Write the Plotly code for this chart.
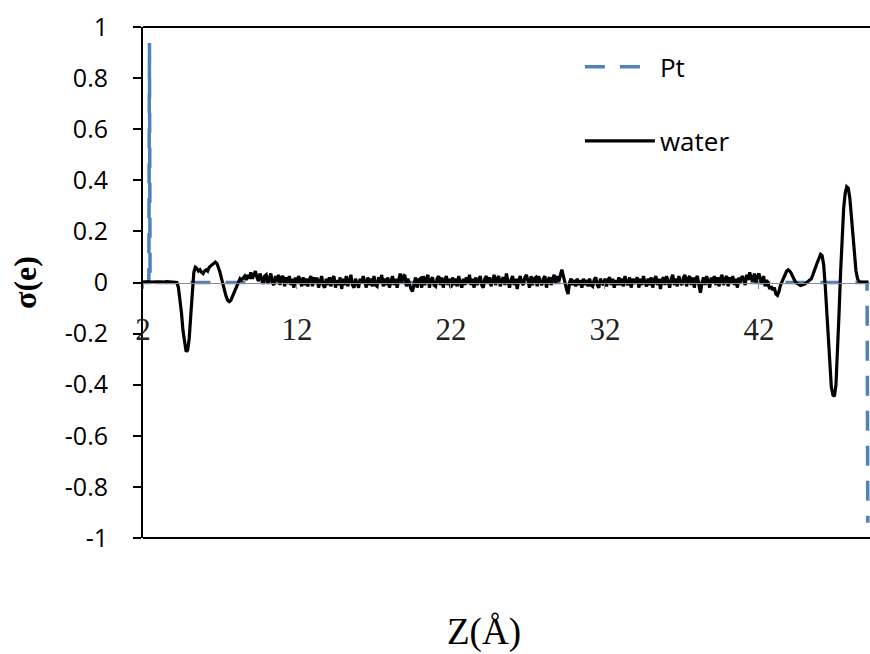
import numpy as np
import plotly.graph_objects as go

# ---------------- data ----------------
Z_START = 2.0
Z_STEP = 0.1

water_a = [0.002, 0.003, 0.002, 0.003, 0.003, 0.002, 0.003, 0.003, 0.002, 0.003, 0.003,
           0.002, 0.003, 0.003, 0.002, 0.003, 0.003, 0.002, 0.003, 0.003, 0.002, 0.003]
water_b = [0.0, -0.02, -0.06, -0.12, -0.19, -0.24, -0.27, -0.265,
           -0.22, -0.13, -0.03, 0.04, 0.06, 0.055, 0.045, 0.05, 0.04, 0.035,
           0.045, 0.05, 0.045, 0.06, 0.065, 0.07, 0.075, 0.08, 0.075, 0.06,
           0.04, 0.015, -0.01, -0.035, -0.055, -0.07, -0.075, -0.07, -0.055, -0.04,
           -0.025, -0.01, 0.005, 0.015, 0.01, 0.02, 0.025, 0.01, 0.03, 0.015]
water_c = [
    0.04, 0.015, 0.035, 0.045, 0.02, 0.005, 0.035, 0.015, -0.005, 0.025,
    0.03, -0.005, 0.02, 0.035, 0.0, -0.01, 0.025, 0.005, 0.03, -0.01,
    0.02, 0.025, -0.015, 0.02, -0.005, 0.025, -0.01, 0.015, -0.02, 0.02,
    -0.005, 0.025, 0.01, -0.015, 0.02, -0.01, 0.015, -0.015, 0.01, 0.025,
    -0.015, 0.02, -0.005, 0.02, -0.02, 0.01, 0.025, -0.01, -0.02, 0.015,
    -0.01, 0.02, -0.015, 0.015, 0.025, -0.02, 0.01, -0.01, 0.02, -0.025,
    0.015, -0.01, 0.025, -0.015, 0.015, 0.03, -0.01, -0.02, 0.015, 0.0,
    -0.02, 0.015, -0.005, 0.025, 0.0, -0.02, 0.02, -0.01, 0.015, -0.015,
    0.025, -0.01, -0.015, 0.02, 0.0, 0.03, -0.015, 0.015, -0.01, 0.02,
    -0.02, 0.01, 0.025, -0.01, 0.015, -0.02, 0.01, 0.035, 0.0, 0.025,
    0.03, -0.015, 0.015, -0.01, -0.025, -0.035, -0.005, 0.02, -0.02, 0.01,
    0.015, -0.02, 0.025, -0.01, 0.015, 0.03, -0.02, 0.01, 0.02, -0.01,
    -0.015, 0.015, 0.025, -0.01, 0.02, -0.02, 0.01, 0.025, -0.01, 0.015,
    -0.02, 0.02, -0.01, 0.015, -0.015, 0.025, 0.0, -0.02, 0.015, -0.01,
    0.02, -0.005, 0.03, -0.01, 0.015, -0.02, 0.02, -0.01, 0.01, 0.025,
    -0.01, -0.02, 0.015, 0.025, -0.005, 0.02, -0.015, 0.015, 0.03, -0.01,
    0.015, 0.025, -0.015, 0.01, 0.02, -0.01, 0.035, 0.005, -0.02, 0.01,
    0.025, -0.01, 0.015, -0.025, 0.01, 0.025, 0.0, -0.01, 0.02, 0.03,
    0.0, -0.02, 0.025, -0.01, 0.015, 0.02, -0.015, 0.025, 0.0, -0.01,
    0.015, 0.025, -0.02, 0.01, 0.02, -0.01, 0.015, 0.03, -0.005, 0.025,
    0.005, 0.035, 0.05, 0.025, -0.005, -0.025, -0.045, 0.0, 0.015, -0.01,
    0.01, -0.015, 0.015, -0.01, 0.01, -0.02, 0.015, -0.01, 0.01, -0.015,
    0.015, -0.01, -0.015, 0.01, 0.02, -0.01, -0.02, 0.015, 0.0, -0.01,
    0.015, -0.015, 0.01, 0.02, -0.01, 0.015, -0.02, 0.01, -0.01, 0.02,
    -0.01, 0.015, -0.015, 0.025, 0.0, -0.01, 0.02, -0.02, 0.015, -0.005,
    0.01, 0.02, -0.02, 0.015, -0.01, 0.025, 0.0, -0.015, 0.015, -0.01,
    0.02, -0.02, 0.01, 0.025, -0.01, 0.015, -0.025, 0.01, 0.02, -0.01,
    0.025, 0.0, -0.02, 0.015, 0.03, -0.01, 0.015, -0.015, 0.025, 0.0,
    -0.01, 0.02, 0.03, -0.015, 0.015, 0.025, -0.01, 0.02, -0.02, 0.015,
    0.025, -0.01, -0.04, 0.0, 0.02, -0.01, 0.025, 0.005, -0.02, 0.02,
    0.0, 0.025, -0.01, 0.02, -0.015, 0.015, 0.03, -0.01, 0.015, 0.025,
    -0.015, 0.02, 0.0, 0.025, -0.01, 0.015, -0.02, 0.02, 0.0, 0.025,
    0.015, -0.01, 0.03, 0.01, 0.04, 0.015, 0.005, 0.035, 0.0, 0.025,
    0.035, 0.01, -0.005, 0.025, -0.015, 0.01, -0.005, -0.025, -0.015, -0.03,
]
water_d = [
    -0.02, -0.045, -0.05, -0.035, -0.01, 0.005, 0.02, 0.03, 0.045, 0.05,
    0.045, 0.035, 0.02, 0.01, 0.0, -0.005, -0.01, -0.012, -0.01, -0.008,
    -0.005, 0.0, 0.005, 0.01, 0.015, 0.03, 0.05, 0.07, 0.08, 0.095,
    0.11, 0.105, 0.07, -0.01, -0.12, -0.24, -0.34, -0.41, -0.44, -0.445,
    -0.40, -0.28, -0.12, 0.04, 0.18, 0.29, 0.35, 0.375, 0.37, 0.33,
    0.26, 0.18, 0.10, 0.045, 0.015, 0.004, 0.002, 0.002, 0.002, 0.002,
    0.002, 0.002,
]
water_sigma = water_a + water_b + water_c + water_d
water_z = [round(Z_START + Z_STEP * i, 2) for i in range(len(water_sigma))]

pt_z = [2.0, 2.38, 2.42, 2.46, 49.02, 49.07]
pt_sigma = [0.0, 0.0, 0.937, 0.0, 0.0, -0.94]

x_tick_vals = [2, 12, 22, 32, 42]
y_tick_vals = [1, 0.8, 0.6, 0.4, 0.2, 0, -0.2, -0.4, -0.6, -0.8, -1]
y_tick_text = ["1", "0.8", "0.6", "0.4", "0.2", "0", "-0.2", "-0.4", "-0.6", "-0.8", "-1"]

# ---------------- figure ----------------
fig = go.Figure()
fig.add_trace(go.Scatter(
    x=pt_z, y=pt_sigma, mode="lines", name="Pt",
    line=dict(color="#4F81BD", width=3.5, dash="20px,15px"),
    legend="legend", showlegend=True,
))
fig.add_trace(go.Scatter(
    x=water_z, y=water_sigma, mode="lines", name="water",
    line=dict(color="#000000", width=3.2),
    legend="legend2", showlegend=True,
))

sans = "Open Sans"
serif = "Liberation Serif"

fig.update_layout(
    width=870, height=654,
    showlegend=True,
    margin=dict(l=143, r=0, t=27, b=116),
    paper_bgcolor="white", plot_bgcolor="white",
    xaxis=dict(
        range=[2, 49.21], tickvals=x_tick_vals,
        anchor="free", position=0.5,
        showline=True, linecolor="#8c8c8c", linewidth=1,
        ticks="outside", ticklen=5, tickcolor="#8c8c8c",
        tickfont=dict(family=serif, size=31, color="#222"),
        ticklabelstandoff=14,
        showgrid=False, zeroline=False,
    ),
    yaxis=dict(
        range=[-1, 1], tickvals=y_tick_vals, ticktext=y_tick_text,
        showline=True, linecolor="black", linewidth=2,
        ticks="outside", ticklen=8, tickcolor="black", tickwidth=2,
        tickfont=dict(family=sans, size=25, color="black"),
        ticklabelstandoff=20,
        showgrid=False, zeroline=False,
    ),
    legend=dict(
        x=0.601, y=0.922, xanchor="left", yanchor="middle",
        font=dict(family=sans, size=26, color="black"),
        bgcolor="rgba(0,0,0,0)", itemwidth=70,
    ),
    legend2=dict(
        x=0.601, y=0.777, xanchor="left", yanchor="middle",
        font=dict(family=sans, size=26, color="black"),
        bgcolor="rgba(0,0,0,0)", itemwidth=70,
    ),
    shapes=[
        dict(type="line", xref="paper", yref="paper", x0=0, x1=1, y0=1, y1=1,
             line=dict(color="black", width=2)),
        dict(type="line", xref="paper", yref="paper", x0=0, x1=1, y0=0, y1=0,
             line=dict(color="black", width=2)),
    ],
    annotations=[
        dict(text="σ(e)", xref="paper", yref="paper", x=-0.163, y=0.5,
             xanchor="center", yanchor="middle", textangle=-90, showarrow=False,
             font=dict(family=serif, size=32, color="black", weight="bold")),
        dict(text="Z(Å)", xref="paper", yref="paper", x=0.469, y=-0.184,
             xanchor="center", yanchor="middle", showarrow=False,
             font=dict(family=serif, size=37, color="black")),
    ],
)

fig.write_html("out.html")
